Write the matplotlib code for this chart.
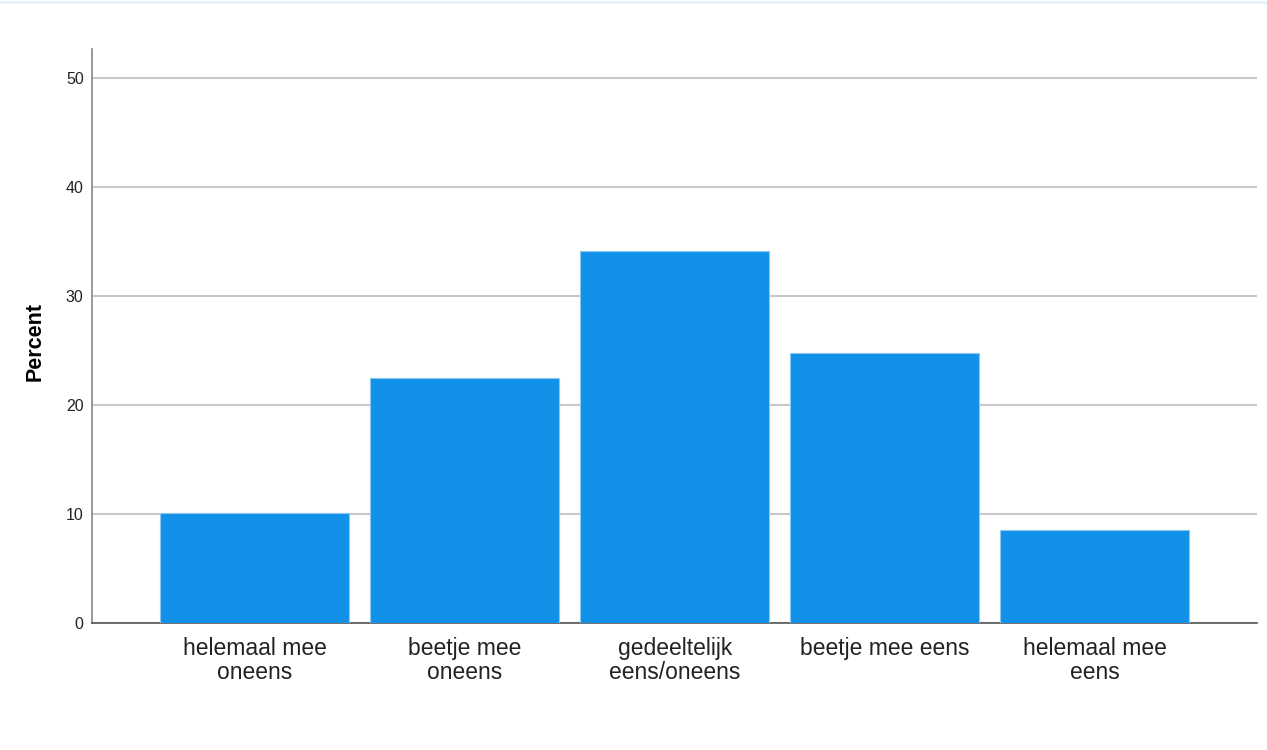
import matplotlib
matplotlib.use("Agg")
import matplotlib.pyplot as plt
import numpy as np

## data
categories = ["helemaal mee\noneens", "beetje mee\noneens", "gedeeltelijk\neens/oneens",
              "beetje mee eens", "helemaal mee\neens"]
percent = [10.1, 22.5, 34.1, 24.8, 8.5]
yticks = [0, 10, 20, 30, 40, 50]

plt.rcParams['font.family'] = ['Liberation Sans', 'DejaVu Sans']

fig = plt.figure(figsize=(12.67, 7.5), dpi=100)
ax = fig.add_axes([0.0726, 0.1693, 0.9194, 0.7654])

x = np.arange(len(categories))
ax.bar(x, percent, width=0.9, color='#1192e8', edgecolor='#8cc6f2', linewidth=0.8, zorder=3)

ax.set_xlim(-0.776, len(categories) - 1 + 0.771)
ax.set_ylim(0, 52.66)
ax.set_yticks(yticks)
ax.yaxis.grid(True, color='#c8c8c8', linewidth=1.5, zorder=0)
ax.set_axisbelow(True)

ax.set_xticks(x)
ax.set_xticklabels(categories, fontsize=16.5, color='#222222', linespacing=1.05)
ax.tick_params(axis='x', length=0, pad=10)
ax.tick_params(axis='y', length=0, pad=6, labelsize=11.5, labelcolor='#222222')

for side in ['top', 'right']:
    ax.spines[side].set_visible(False)
ax.spines['left'].set_color('#888888')
ax.spines['left'].set_linewidth(1.2)
ax.spines['bottom'].set_color('#555555')
ax.spines['bottom'].set_linewidth(1.2)

ax.set_ylabel('Percent', fontsize=15.5, fontweight='bold')
ax.yaxis.set_label_coords(-0.040, 0.491)

## thin light strip at the top edge
fig.add_artist(plt.Line2D([0, 1], [0.998, 0.998], color='#e6f3fb', linewidth=2, transform=fig.transFigure))

plt.savefig('out.png', dpi=100)
